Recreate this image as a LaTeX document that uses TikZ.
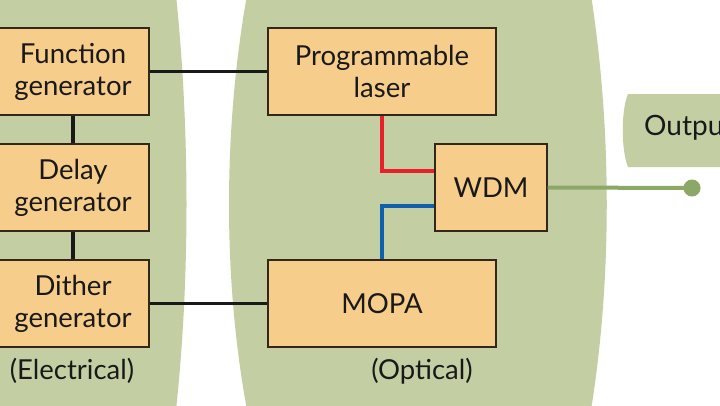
\documentclass[tikz,border=0pt]{standalone}
\usepackage{fontspec}
\setmainfont{Lato}
\definecolor{panel}{HTML}{C3CFA3}
\definecolor{boxfill}{HTML}{F6CD8A}
\definecolor{boxline}{HTML}{33261A}
\definecolor{outgreen}{HTML}{8BA866}
\definecolor{redline}{HTML}{E8202A}
\definecolor{blueline}{HTML}{1060B0}
\begin{document}
\begin{tikzpicture}[x=1pt,y=-1pt,
  blk/.style={draw=boxline,line width=1.3pt,fill=boxfill,align=center,
    font=\fontsize{27.5}{32}\selectfont,text=black!90,inner sep=0pt,
    minimum height=87pt},
  lbl/.style={font=\fontsize{27.5}{32}\selectfont,text=black!90,inner sep=0pt},
  wire/.style={line width=3.2pt,black!90}]
\useasboundingbox (0,0) rectangle (720,405);
\clip (0,0) rectangle (720,405);
\fill[white] (0,0) rectangle (720,405);
% panels
\fill[panel] (-10,-5) -- (176,-5) .. controls (190,130) and (190,280) .. (176,410) -- (-10,410) -- cycle;
\fill[panel] (247,-5) .. controls (223,130) and (223,280) .. (247,410) -- (591,410) .. controls (612,280) and (612,130) .. (591,-5) -- cycle;
\fill[panel] (730,94) -- (628,94) .. controls (621,110) and (621,150) .. (628,167) -- (730,167) -- cycle;
% boxes
\node[blk,minimum width=152pt] (fg) at (73,71.5) {Function\\generator};
\node[blk,minimum width=152pt] (dg) at (73,187.5) {Delay\\generator};
\node[blk,minimum width=152pt] (dt) at (73,303.5) {Dither\\generator};
\node[blk,minimum width=228pt] (pl) at (382,71.5) {Programmable\\laser};
\node[blk,minimum width=228pt] (mopa) at (382,303.5) {MOPA};
\node[blk,minimum width=112pt] (wdm) at (491,187.5) {WDM};
\node[lbl] (elec) at (72,371) {(Electrical)};
\node[lbl] (opt) at (422,371) {(Optical)};
\node[lbl,font=\fontsize{28}{32}\selectfont,anchor=west] (outl) at (644,128) {Output};
\node[circle,fill=outgreen,minimum size=17pt,inner sep=0pt] (dot) at (692,188) {};
% connectors
\draw[wire] (fg) -- (dg);
\draw[wire] (dg) -- (dt);
\draw[wire] (fg.east) -- (pl.west);
\draw[wire] (dt.east) -- (mopa.west);
\draw[line width=3.2pt,redline] (pl.south) |- ([yshift=16.5pt]wdm.west);
\draw[line width=3.2pt,blueline] ([yshift=-18.5pt]wdm.west) -| (mopa.north);
\draw[line width=4pt,outgreen] (wdm.east) -- (dot.center);
\end{tikzpicture}
\end{document}
